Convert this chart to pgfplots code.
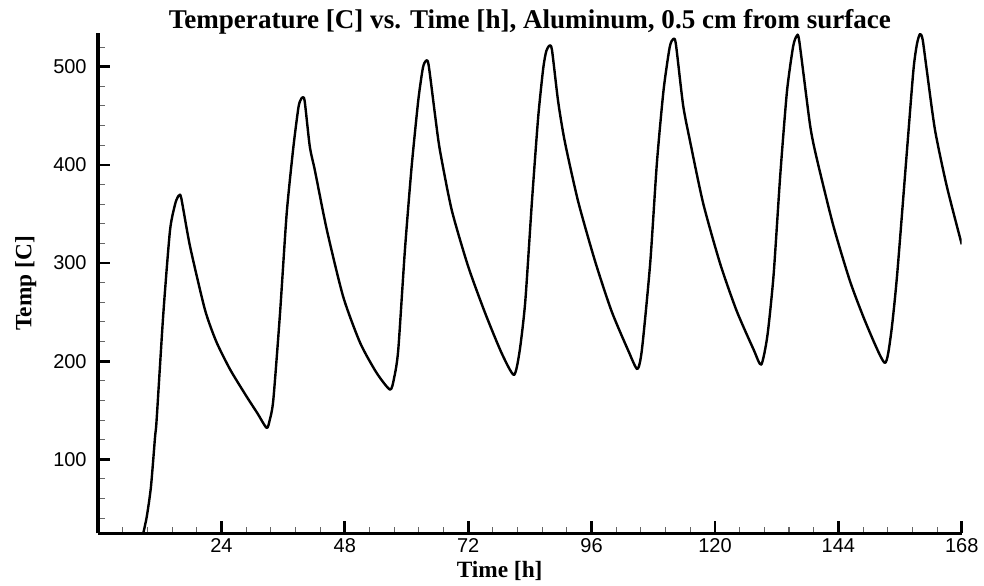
\documentclass[border=0pt]{standalone}
\usepackage{fontspec}
\setmainfont{Liberation Serif}
\setsansfont{Liberation Sans}
\usepackage{pgfplots}
\pgfplotsset{compat=1.18}

\begin{document}
\begin{tikzpicture}
\useasboundingbox (-73.5pt,-38.8pt) rectangle (664.5pt,400pt);
\begin{axis}[
  at={(0,0)}, anchor=south west,
  scale only axis, width=647.8pt, height=375pt,
  xmin=0, xmax=168, ymin=24.6, ymax=534,
  axis x line*=bottom, axis y line*=left,
  axis line style={line width=2.3pt},
  tick align=inside,
  xtick={24,48,...,168}, ytick={100,200,...,500},
  minor xtick={0,4.8,...,168}, minor ytick={40,60,...,520},
  major tick length=9pt, minor tick length=5pt,
  every major tick/.style={line width=2pt, black},
  every minor tick/.style={line width=0.8pt, black!60},
  /pgf/number format/assume math mode=true,
  tick label style={font=\sffamily\fontsize{15}{15}\selectfont},
  xticklabel style={text height=10.8pt, text depth=0pt},
  yticklabel style={xshift=-5pt},
  every axis title/.style={at={(axis description cs:0.5,1.01)}, anchor=base,
    font=\bfseries\fontsize{20.3}{20.3}\selectfont},
  every axis x label/.style={at={(axis description cs:0.465,-0.088)}, anchor=base,
    font=\bfseries\fontsize{17.5}{17.5}\selectfont},
  every axis y label/.style={at={(axis description cs:-0.077,0.5)}, rotate=90, anchor=base,
    font=\bfseries\fontsize{17.5}{17.5}\selectfont},
  title={Temperature [C] vs. Time [h], Aluminum, 0.5 cm from surface},
  xlabel={Time [h]},
  ylabel={Temp [C]},
]
\addplot[black, line width=1.8pt, line join=round, smooth, tension=0.4] coordinates {
  (8.8,24.6) (9.5,42) (10.3,72) (11.1,123) (11.4,140) (12.7,248) (14,333) (15,360)
  (15.5,367) (15.8,369) (16.2,366) (17.9,317) (20.8,252.5) (23,220) (25.7,191.5)
  (28.9,164) (31,147) (32.8,132)
  (33.4,140) (34.1,160.5) (35.4,248.5) (36.7,350.5) (38,418) (39,459) (39.5,467)
  (39.8,468.7) (40.2,465) (41.2,418.5) (42.2,394) (44.5,334) (47.7,265.5) (51,218.5)
  (54.2,188) (56.8,171)
  (57.6,183) (58.4,211.5) (59.7,313.5) (61,398) (62.3,466) (63.2,499) (63.8,506.1)
  (64.3,502) (65.6,449) (66.5,415) (68.8,354) (72,296.5) (75.3,249) (78.5,208.3)
  (80.9,186)
  (82,210) (83.1,260.5) (84.4,362.5) (85.6,447.5) (86.6,498.5) (87.2,516) (87.8,521.5)
  (88.3,517) (89.5,464.5) (90.8,423.5) (93.4,362.5) (96.7,301.5) (99.9,250.8)
  (103.2,210) (104.9,192)
  (105.8,212) (107.4,299.5) (108.7,401.5) (110,476) (111.2,520) (111.9,528.3)
  (112.4,523) (113.8,461) (115.1,425.5) (117.7,361) (121,299.5) (124.2,251.5)
  (127.5,212) (129,196.5)
  (130.2,226) (131.4,287.5) (132.7,389.5) (134,474.5) (135.2,520.5) (135.9,531.3)
  (136.4,526) (138.5,440.5) (139.8,406.5) (143,338.5) (146.3,281) (149.5,237)
  (153,198.3)
  (154.2,226) (155.4,286) (157.3,411.5) (158.6,496.5) (159.3,523.5) (159.9,533.5)
  (160.4,527.5) (161.2,496.5) (162.8,435.5) (165.1,378) (168,319)
};
\end{axis}
\end{tikzpicture}
\end{document}
